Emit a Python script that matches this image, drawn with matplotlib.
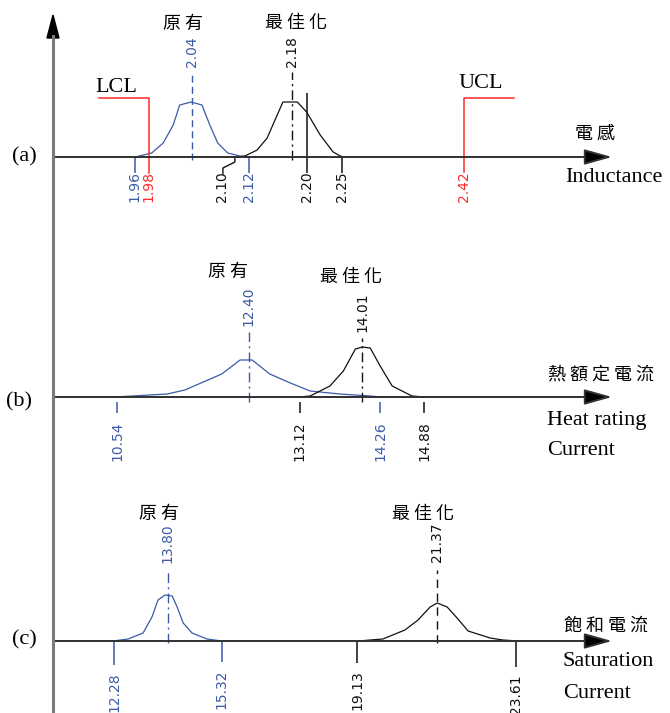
import matplotlib.pyplot as plt
from matplotlib.lines import Line2D

W, H = 670, 713
BLUE = '#3c5aa8'
RED = '#ff2a2a'
BLACK = '#111111'

# ---- (a) inductance ----
ind_orig_v = [1.961, 1.984, 2.000, 2.014, 2.023, 2.039, 2.054, 2.065, 2.076, 2.090, 2.107, 2.120]
ind_orig_h = [0, 4, 14, 32, 52, 55, 52, 32, 14, 4, 1, 0]
ind_opt_v = [2.103, 2.114, 2.131, 2.145, 2.159, 2.167, 2.187, 2.200, 2.219, 2.237, 2.247, 2.253]
ind_opt_h = [0, 1, 7, 19, 42, 55, 55, 45, 22, 5, 1, 0]
ind_lcl, ind_ucl = 1.98, 2.42
ind_mean_orig, ind_mean_opt = 2.04, 2.18
ind_ticks = [1.96, 2.10, 2.12, 2.20, 2.25]
ind_tick_labels = ['1.96', '2.10', '2.12', '2.20', '2.25']
ind_tick_colors = [BLUE, BLACK, BLUE, BLACK, BLACK]

# ---- (b) heat rating current ----
heat_orig_v = [10.51, 11.25, 11.50, 12.02, 12.28, 12.45, 12.70, 12.99, 13.27, 13.69, 14.12, 14.27]
heat_orig_h = [0, 3, 7, 23, 37, 37, 23, 14, 6, 3, 1, 0]
heat_opt_v = [13.11, 13.27, 13.55, 13.74, 13.91, 14.01, 14.12, 14.26, 14.43, 14.71, 14.88]
heat_opt_h = [0, 1, 11, 26, 48, 50, 49, 31, 11, 1, 0]
heat_mean_orig, heat_mean_opt = 12.40, 14.01
heat_ticks = [10.54, 13.12, 14.26, 14.88]
heat_tick_labels = ['10.54', '13.12', '14.26', '14.88']
heat_tick_colors = [BLUE, BLACK, BLUE, BLACK]

# ---- (c) saturation current ----
sat_orig_v = [12.25, 12.68, 13.10, 13.35, 13.52, 13.72, 13.92, 14.06, 14.23, 14.48, 14.90, 15.32]
sat_orig_h = [0, 2, 8, 24, 41, 46, 45, 34, 18, 8, 2, 0]
sat_opt_v = [19.16, 19.86, 20.48, 20.85, 21.19, 21.39, 21.67, 21.95, 22.26, 22.88, 23.24, 23.67]
sat_opt_h = [0, 2, 11, 21, 34, 38, 34, 23, 10, 3, 1, 0]
sat_mean_orig, sat_mean_opt = 13.80, 21.37
sat_ticks = [12.28, 15.32, 19.13, 23.61]
sat_tick_labels = ['12.28', '15.32', '19.13', '23.61']
sat_tick_colors = [BLUE, BLUE, BLACK, BLACK]

CJK = ['Noto Sans CJK TC', 'DejaVu Sans']
NUM = ['DejaVu Sans']
SERIF = ['Liberation Serif', 'DejaVu Serif']
CJK_SIZE = 13
EN_SIZE = 16

fig = plt.figure(figsize=(W / 100, H / 100), dpi=100)


def spaced(s, n=1):
    return (' ' * n).join(s)


def ftext(px, py, s, **kw):
    fig.text(px / W, 1 - py / H, s, **kw)


def panel(base, a, b):
    # overlapping full-figure axes, x in value units, y in px above baseline
    ax = fig.add_axes([0, 0, 1, 1])
    ax.set_xlim(-a / b, (W - a) / b)
    ax.set_ylim(base - H, base)
    ax.axis('off')
    ax.patch.set_alpha(0)
    tr = ax.get_yaxis_transform()
    ax.annotate('', xy=(612 / W, 0), xytext=(53 / W, 0), xycoords=tr, textcoords=tr,
                arrowprops=dict(arrowstyle='-|>,head_length=1.0,head_width=0.28',
                                mutation_scale=17, lw=1.4, color='#303030',
                                fc='black', shrinkA=0, shrinkB=0))
    return ax


def vlabel(ax, v, y, s, color, dx=0.0):
    ax.text(v + dx, y, s, rotation=90, ha='center', va='center', color=color,
            fontsize=10, family=NUM)


# vertical axis
fig.add_artist(Line2D([53 / W, 53 / W], [0, 1 - 36 / H], color='#7a7a7a', lw=2.2))
fig.add_artist(plt.Polygon([[47 / W, 1 - 38 / H], [59 / W, 1 - 38 / H], [53 / W, 1 - 15 / H]],
                           closed=True, color='black', transform=fig.transFigure))

# ===== panel (a) =====
a_px, b_px = -1270.8, 717.0
ax = panel(157, a_px, b_px)
ax.plot(ind_orig_v, ind_orig_h, color=BLUE, lw=0.9)
ax.plot(ind_opt_v, ind_opt_h, color=BLACK, lw=0.9)
px = 1 / b_px
# LCL / UCL brackets
ax.plot([ind_lcl - 50 * px, ind_lcl, ind_lcl], [59, 59, -16], color=RED, lw=1.1)
ax.plot([ind_ucl + 50 * px, ind_ucl, ind_ucl], [59, 59, -15], color=RED, lw=1.1)
vlabel(ax, ind_lcl, -30, f'{ind_lcl:.2f}', RED)
vlabel(ax, ind_ucl, -30, f'{ind_ucl:.2f}', RED)
# means
ax.vlines(ind_mean_orig, -3, 82, color=BLUE, lw=1.0, linestyles=(0, (5, 3)))
ax.vlines(ind_mean_opt, -3, 85, color=BLACK, lw=1.0, linestyles=(0, (7, 3, 1.5, 3)))
vlabel(ax, ind_mean_orig, 105, f'{ind_mean_orig:.2f}', BLUE)
vlabel(ax, ind_mean_opt, 105, f'{ind_mean_opt:.2f}', BLACK)
# ticks
for v, s, c in zip(ind_ticks, ind_tick_labels, ind_tick_colors):
    if s == '2.10':
        ax.plot([v, v, v - 12 * px, v - 12 * px], [0, -5, -11, -17], color=c, lw=1.0)
        vlabel(ax, v, -30, s, c, dx=-13 * px)
    elif s == '2.20':
        ax.vlines(v, -16, 64, color=c, lw=1.1)
        vlabel(ax, v, -30, s, c)
    else:
        ax.vlines(v, -16, 0, color=c, lw=1.1)
        vlabel(ax, v, -30, s, c)

ftext(183, 24, spaced('原有'), ha='center', va='center', fontsize=CJK_SIZE, family=CJK)
ftext(296, 23, spaced('最佳化'), ha='center', va='center', fontsize=CJK_SIZE, family=CJK)
ftext(116, 87, 'LCL', ha='center', va='center', fontsize=EN_SIZE, family=SERIF)
ftext(481, 83, 'UCL', ha='center', va='center', fontsize=EN_SIZE, family=SERIF)
ftext(595, 134, spaced('電感'), ha='center', va='center', fontsize=CJK_SIZE, family=CJK)
ftext(565, 178, 'Inductance', ha='left', va='center', fontsize=EN_SIZE, family=SERIF)
ftext(24, 157, '(a)', ha='center', va='center', fontsize=EN_SIZE, family=SERIF)

# ===== panel (b) =====
a_px, b_px = -628.6, 70.74
ax = panel(397, a_px, b_px)
ax.plot(heat_orig_v, heat_orig_h, color=BLUE, lw=0.9)
ax.plot(heat_opt_v, heat_opt_h, color=BLACK, lw=0.9)
ax.vlines(heat_mean_orig, -5, 65, color=BLUE, lw=1.0, linestyles=(0, (7, 3, 1.5, 3)))
ax.vlines(heat_mean_opt, -5, 59, color=BLACK, lw=1.0, linestyles=(0, (7, 3, 1.5, 3)))
vlabel(ax, heat_mean_orig, 91, f'{heat_mean_orig:.2f}', BLUE)
vlabel(ax, heat_mean_opt, 85, f'{heat_mean_opt:.2f}', BLACK)
for v, s, c in zip(heat_ticks, heat_tick_labels, heat_tick_colors):
    ax.vlines(v, -16, -5, color=c, lw=1.1)
    vlabel(ax, v, -44, s, c)

ftext(228, 272, spaced('原有'), ha='center', va='center', fontsize=CJK_SIZE, family=CJK)
ftext(351, 277, spaced('最佳化'), ha='center', va='center', fontsize=CJK_SIZE, family=CJK)
ftext(601, 375, spaced('熱額定電流'), ha='center', va='center', fontsize=CJK_SIZE, family=CJK)
ftext(547, 420, 'Heat rating', ha='left', va='center', fontsize=EN_SIZE, family=SERIF)
ftext(547, 451, 'Current', ha='left', va='center', fontsize=EN_SIZE, family=SERIF)
ftext(19, 402, '(b)', ha='center', va='center', fontsize=EN_SIZE, family=SERIF)

# ===== panel (c) =====
a_px, b_px = -321.7, 35.48
ax = panel(641, a_px, b_px)
ax.plot(sat_orig_v, sat_orig_h, color=BLUE, lw=0.9)
ax.plot(sat_opt_v, sat_opt_h, color=BLACK, lw=0.9)
ax.vlines(sat_mean_orig, -2, 71, color=BLUE, lw=1.0, linestyles=(0, (7, 3, 1.5, 3)))
ax.vlines(sat_mean_opt, -2, 71, color=BLACK, lw=1.0, linestyles=(0, (6, 4)))
vlabel(ax, sat_mean_orig, 98, f'{sat_mean_orig:.2f}', BLUE)
vlabel(ax, sat_mean_opt, 99, f'{sat_mean_opt:.2f}', BLACK)
tick_len = [24, 21, 22, 26]
for v, s, c, L in zip(sat_ticks, sat_tick_labels, sat_tick_colors, tick_len):
    ax.vlines(v, -L, -1, color=c, lw=1.1)
    vlabel(ax, v, -L - 27, s, c)

ftext(159, 514, spaced('原有'), ha='center', va='center', fontsize=CJK_SIZE, family=CJK)
ftext(423, 514, spaced('最佳化'), ha='center', va='center', fontsize=CJK_SIZE, family=CJK)
ftext(606, 626, spaced('飽和電流'), ha='center', va='center', fontsize=CJK_SIZE, family=CJK)
ftext(563, 662, 'Saturation', ha='left', va='center', fontsize=EN_SIZE, family=SERIF)
ftext(563, 693, 'Current', ha='left', va='center', fontsize=EN_SIZE, family=SERIF)
ftext(24, 640, '(c)', ha='center', va='center', fontsize=EN_SIZE, family=SERIF)

fig.savefig('out.png', dpi=100)
